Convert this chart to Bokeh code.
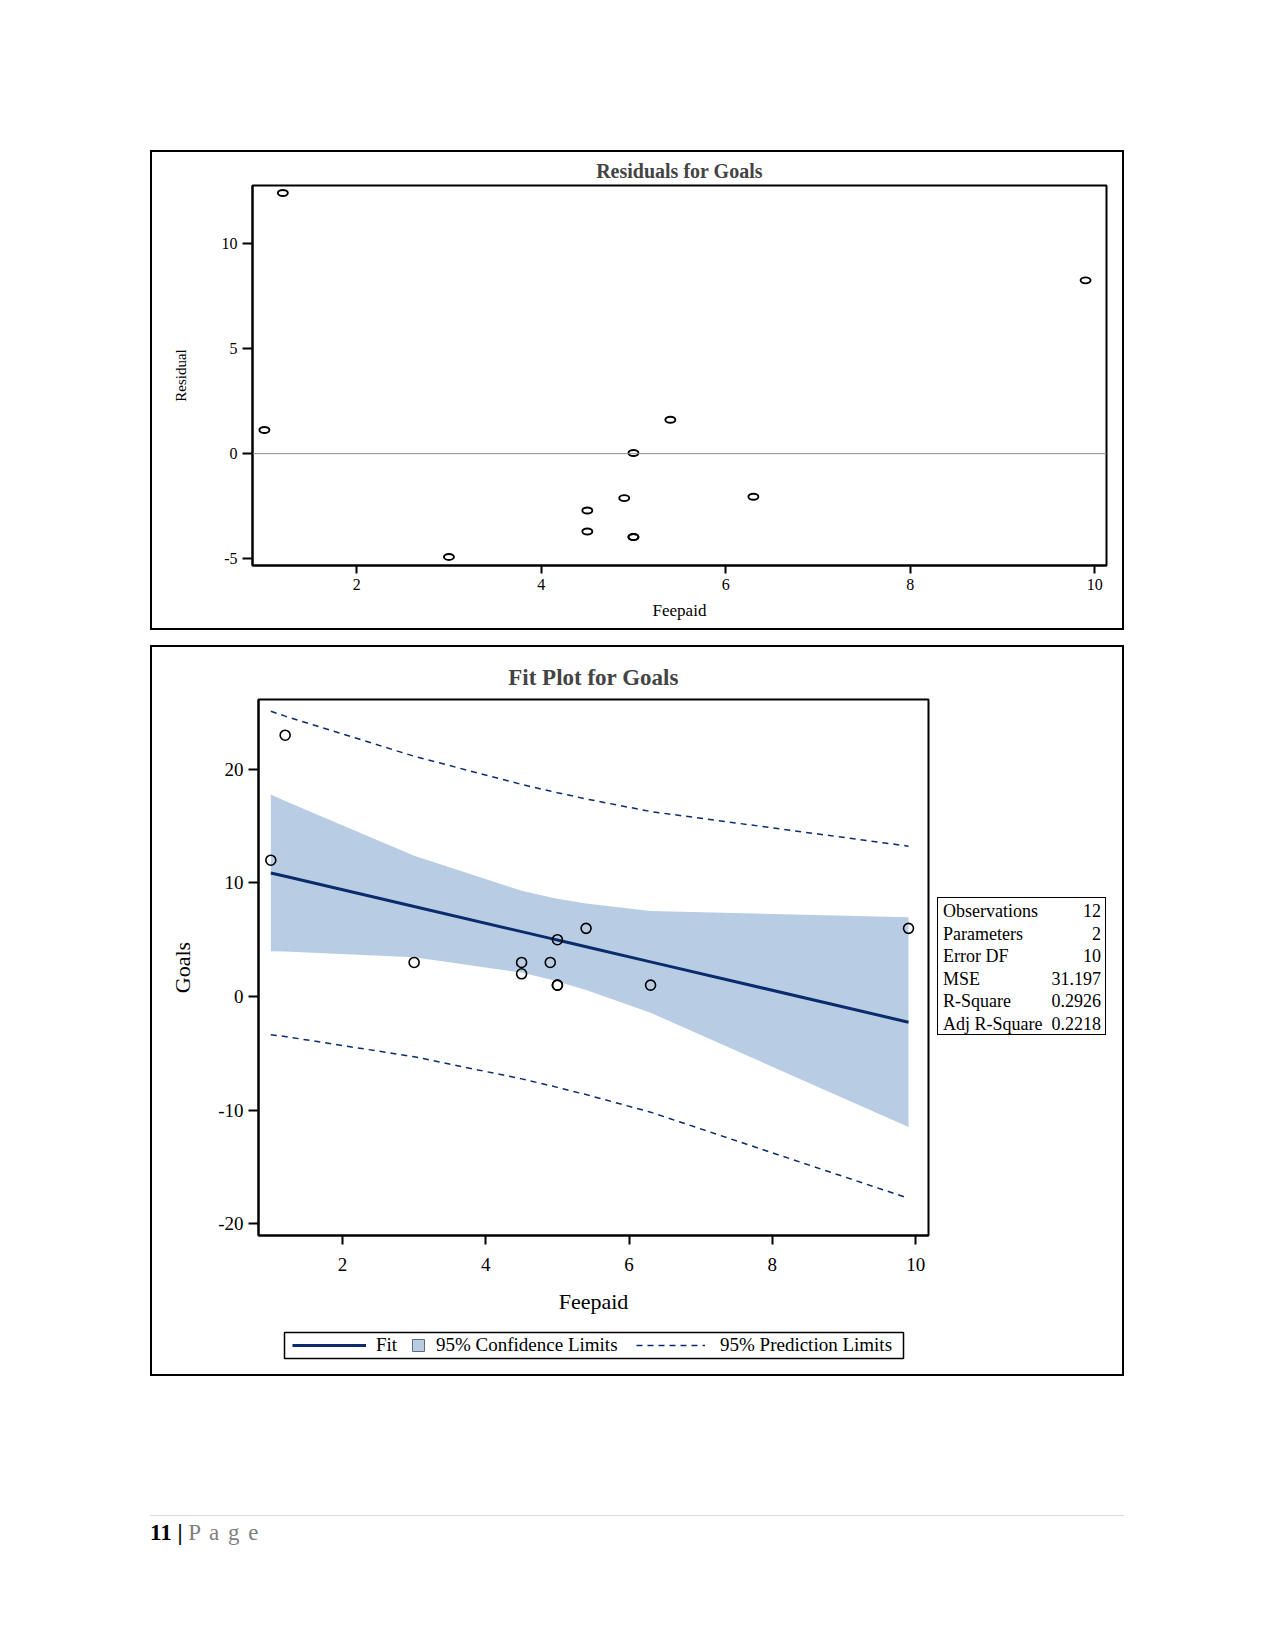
from bokeh.plotting import figure
from bokeh.models import Range1d, FixedTicker, Span, Legend, LegendItem, Div, Spacer
from bokeh.layouts import column, row
from bokeh.embed import file_html
from bokeh.resources import INLINE

# ---------------- data ----------------
feepaid = [1.0, 1.2, 3.0, 4.5, 4.5, 4.9, 5.0, 5.0, 5.0, 5.4, 6.3, 9.9]
goals = [12, 23, 3, 3, 2, 3, 5, 1, 1, 6, 1, 6]
residual = [1.127, 12.422, -4.922, -2.709, -3.709, -2.119, 0.029, -3.971, -3.971, 1.619, -2.053, 8.259]

fit_x = [1.0, 1.2, 3.0, 4.5, 4.9, 5.0, 5.4, 6.3, 9.9]
fit_y = [10.873, 10.578, 7.922, 5.709, 5.119, 4.971, 4.381, 3.053, -2.258]
clm_lower = [3.977, 3.955, 3.456, 2.109, 1.502, 1.332, 0.585, -1.429, -11.487]
clm_upper = [17.770, 17.201, 12.389, 9.309, 8.736, 8.610, 8.177, 7.536, 6.970]
cli_lower = [-3.355, -3.519, -5.300, -7.246, -7.841, -7.995, -8.630, -10.175, -17.752]
cli_upper = [25.101, 24.676, 21.145, 18.664, 18.079, 17.938, 17.392, 16.281, 13.235]

stat_names = ["Observations", "Parameters", "Error DF", "MSE", "R-Square", "Adj R-Square"]
stat_values = ["12", "2", "10", "31.197", "0.2926", "0.2218"]

x_ticks = [2, 4, 6, 8, 10]
res_y_ticks = [-5, 0, 5, 10]
fit_y_ticks = [-20, -10, 0, 10, 20]

FONT = "Liberation Serif"
NAVY = "#0a2c6c"
BAND = "#b8cce4"


def hyphen_labels(ticks):
    return {t: str(t) for t in ticks if t < 0}


def style_axes(p, tick_size, label_size, x_tick_out, y_tick_out,
               x_label_standoff, y_label_standoff, x_tick_standoff, y_tick_standoff):
    for ax in p.axis:
        ax.axis_line_width = 2
        ax.axis_line_color = "black"
        ax.major_tick_line_width = 2
        ax.major_tick_line_color = "black"
        ax.major_tick_in = 0
        ax.minor_tick_line_color = None
        ax.major_label_text_font = FONT
        ax.major_label_text_font_size = tick_size
        ax.major_label_text_color = "black"
        ax.axis_label_text_font = FONT
        ax.axis_label_text_font_size = label_size
        ax.axis_label_text_font_style = "normal"
        ax.axis_label_text_color = "black"
    p.xaxis.major_tick_out = x_tick_out
    p.yaxis.major_tick_out = y_tick_out
    p.xaxis.axis_label_standoff = x_label_standoff
    p.yaxis.axis_label_standoff = y_label_standoff
    p.xaxis.major_label_standoff = x_tick_standoff
    p.yaxis.major_label_standoff = y_tick_standoff
    p.grid.visible = False
    p.outline_line_color = "black"
    p.outline_line_width = 2
    p.outline_line_alpha = 1


# ---------------- residual plot ----------------
p1 = figure(width=970, height=476, x_range=Range1d(0.871, 10.127), y_range=Range1d(-5.33, 12.78),
            output_backend="svg", toolbar_location=None, title="Residuals for Goals",
            min_border_left=100, min_border_right=16, min_border_top=33, min_border_bottom=63,
            x_axis_label="Feepaid", y_axis_label="Residual")
p1.title.align = "center"
p1.title.text_font = FONT
p1.title.text_font_size = "20px"
p1.title.text_font_style = "bold"
p1.title.standoff = 7
p1.xaxis.ticker = FixedTicker(ticks=x_ticks)
p1.yaxis.ticker = FixedTicker(ticks=res_y_ticks)
p1.yaxis.major_label_overrides = hyphen_labels(res_y_ticks)
style_axes(p1, "16px", "17px", 8, 10, 8, 30, 5, 5)
p1.yaxis.axis_label_text_font_size = "15px"

p1.add_layout(Span(location=0, dimension="width", line_color="#8c8c8c", line_width=1))
p1.ellipse(x=feepaid, y=residual, width=10, height=6, width_units="screen", height_units="screen",
           fill_color=None, line_color="black", line_width=1.9)

# ---------------- fit plot ----------------
p2 = figure(width=778, height=677, x_range=Range1d(0.828, 10.179), y_range=Range1d(-21.03, 26.14),
            output_backend="svg", toolbar_location=None, title="Fit Plot for Goals",
            min_border_left=106, min_border_right=2, min_border_top=52, min_border_bottom=89,
            x_axis_label="Feepaid", y_axis_label="Goals")
p2.title.align = "center"
p2.title.text_font = FONT
p2.title.text_font_size = "23px"
p2.title.text_font_style = "bold"
p2.title.standoff = 19
p2.xaxis.ticker = FixedTicker(ticks=x_ticks)
p2.yaxis.ticker = FixedTicker(ticks=fit_y_ticks)
p2.yaxis.major_label_overrides = hyphen_labels(fit_y_ticks)
style_axes(p2, "19px", "22px", 9, 10, 15, 20, 13, 5)

p2.varea(x=fit_x, y1=clm_lower, y2=clm_upper, fill_color=BAND, fill_alpha=1)
p2.line(fit_x, fit_y, line_color=NAVY, line_width=3)
p2.line(fit_x, cli_upper, line_color=NAVY, line_width=1.5, line_dash="6 5")
p2.line(fit_x, cli_lower, line_color=NAVY, line_width=1.5, line_dash="6 5")
p2.scatter(feepaid, goals, marker="circle", size=10, fill_color=None, line_color="black", line_width=1.6)

# ---------------- legend strip: its frame is the legend box ----------------
# the strip's ranges lie away from the data, so its renderers only feed the legend keys
pl = figure(width=778, height=50, output_backend="svg", toolbar_location=None,
            x_range=Range1d(-101, -100), y_range=Range1d(-101, -100),
            min_border_left=132, min_border_right=27, min_border_top=8, min_border_bottom=16,
            x_axis_location=None, y_axis_location=None)
pl.grid.visible = False
pl.outline_line_color = "black"
pl.outline_line_width = 1.5
for fig in (p2, pl):
    if "frame_align" in fig.properties():
        fig.frame_align = False
leg_fit = pl.line(fit_x, fit_y, line_color=NAVY, line_width=3)
leg_clm = pl.scatter(feepaid, goals, marker="square", size=12, fill_color=BAND,
                     line_color="#5a6b80", line_width=1)
leg_cli = pl.line(fit_x, cli_upper, line_color=NAVY, line_width=1.5, line_dash="6 5")


def key(label, renderer, x, glyph_w, standoff):
    return Legend(items=[LegendItem(label=label, renderers=[renderer])],
                  location=(x, -2), orientation="horizontal",
                  glyph_width=glyph_w, glyph_height=30, label_height=30, label_standoff=standoff,
                  padding=0, margin=0, spacing=0,
                  label_text_font=FONT, label_text_font_size="19px", label_text_color="black",
                  border_line_color=None, background_fill_alpha=0)


pl.add_layout(key("Fit", leg_fit, 8, 74, 10))
pl.add_layout(key("95% Confidence Limits", leg_clm, 119, 30, 3))
pl.add_layout(key("95% Prediction Limits", leg_cli, 352, 69, 15))

rows_html = "".join(
    f'<tr><td style="padding:0;line-height:22.5px;text-align:left">{n}</td>'
    f'<td style="padding:0;line-height:22.5px;text-align:right">{v}</td></tr>'
    for n, v in zip(stat_names, stat_values))
stats_div = Div(text=(
    '<div style="box-sizing:border-box;width:169px;height:138px;border:1.5px solid black;'
    f'padding:2px 4px 0 5px;font-family:\'{FONT}\';font-size:18px;color:black;background:white;">'
    '<table style="border-collapse:collapse;width:100%;border-spacing:0;">'
    + rows_html + '</table></div>'), width=169, height=138, margin=0)

right_col = column(Spacer(width=192, height=250),
                   row(Spacer(width=7, height=138), stats_div, Spacer(width=16, height=138)))

panel1 = row(p1, styles={"border": "2px solid black"})
panel2 = row(column(p2, pl), right_col, styles={"border": "2px solid black"})

footer = Div(text=(
    f'<div style="width:974px;border-top:1px solid #d9d9d9;padding-top:4px;font-family:\'{FONT}\';'
    'font-size:23px;line-height:26px;color:black;">'
    '<span style="font-weight:bold">11 |</span> '
    '<span style="color:#7f7f7f;letter-spacing:1.5px">P a g e</span></div>'),
    width=974, height=50, margin=0)

layout = column(
    Spacer(width=10, height=150),
    row(Spacer(width=150, height=10), panel1),
    Spacer(width=10, height=15),
    row(Spacer(width=150, height=10), panel2),
    Spacer(width=10, height=139),
    row(Spacer(width=150, height=10), footer),
)

open("out.html", "w").write(file_html(layout, INLINE))
